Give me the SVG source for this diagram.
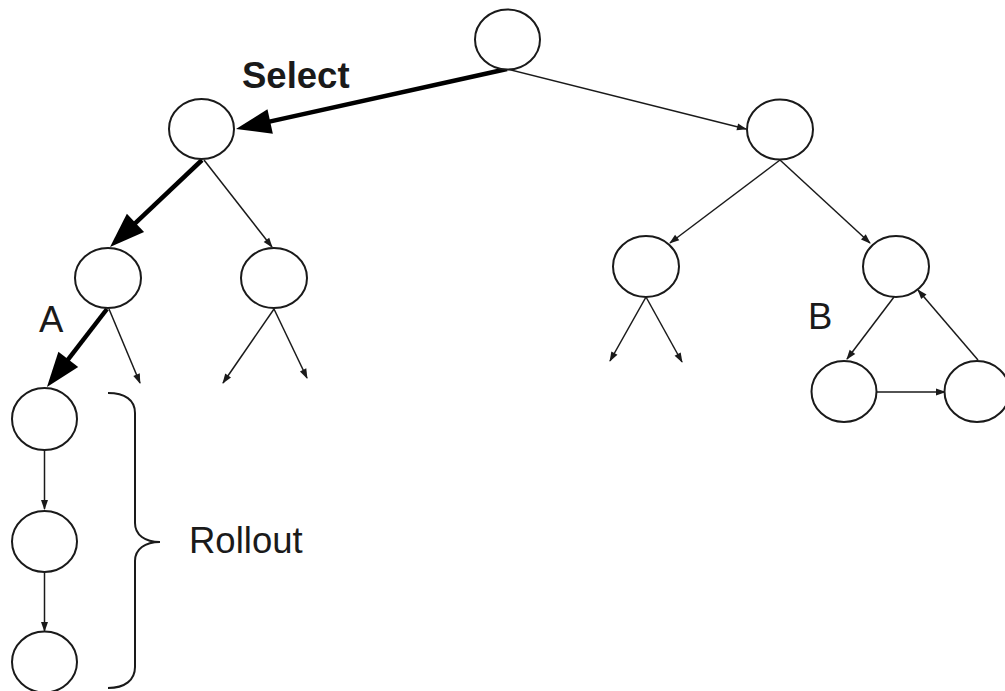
<svg xmlns="http://www.w3.org/2000/svg" width="1005" height="691" viewBox="0 0 1005 691">
  <style>
    .node { fill: #fff; stroke: #1a1a1a; stroke-width: 2; }
    .edge { fill: none; stroke: #1a1a1a; stroke-width: 1.5; marker-end: url(#tip); }
    .bold { fill: none; stroke: #000; stroke-width: 4.5; marker-end: url(#bigTip); }
    .label { font-family: "Liberation Sans", Arial, sans-serif; font-size: 36.5px; fill: #1a1a1a; }
    .brace { fill: none; stroke: #1a1a1a; stroke-width: 2; }
  </style>
  <defs>
    <marker id="tip" markerUnits="userSpaceOnUse" markerWidth="10" markerHeight="8" refX="9" refY="3.5" orient="auto" overflow="visible">
      <path d="M0,0 L10,3.5 L0,7 z" fill="#1a1a1a"/>
    </marker>
    <marker id="bigTip" markerUnits="userSpaceOnUse" markerWidth="36" markerHeight="26" refX="10" refY="12.5" orient="auto" overflow="visible">
      <path d="M0,0 L35,12.5 L0,25 z" fill="#000"/>
    </marker>
  </defs>

  <rect width="1005" height="691" fill="#fff"/>

  <!-- connectors -->
  <g id="connectors">
    <!-- selection path -->
    <line class="bold" x1="507" y1="69" x2="260.4" y2="123.6"/>
    <line class="bold" x1="202" y1="160" x2="128.2" y2="229.8"/>
    <line class="bold" x1="107" y1="309" x2="62.2" y2="367.2"/>
    <!-- other tree edges -->
    <line class="edge" x1="507" y1="69" x2="746" y2="129"/>
    <line class="edge" x1="204" y1="160" x2="272" y2="247"/>
    <line class="edge" x1="109" y1="309" x2="140" y2="383"/>
    <line class="edge" x1="274" y1="309" x2="223" y2="383"/>
    <line class="edge" x1="274" y1="309" x2="307" y2="378"/>
    <line class="edge" x1="780" y1="160" x2="670" y2="243"/>
    <line class="edge" x1="780" y1="160" x2="870" y2="243"/>
    <line class="edge" x1="646" y1="297" x2="610" y2="361"/>
    <line class="edge" x1="646" y1="297" x2="682" y2="362"/>
    <!-- cycle -->
    <line class="edge" x1="894" y1="297" x2="847" y2="359"/>
    <line class="edge" x1="876" y1="392" x2="945" y2="392"/>
    <line class="edge" x1="978" y1="360" x2="918" y2="290"/>
    <!-- rollout chain -->
    <line class="edge" x1="44.5" y1="450" x2="44.5" y2="509"/>
    <line class="edge" x1="44.5" y1="572" x2="44.5" y2="631"/>
  </g>

  <!-- nodes -->
  <g id="root"><ellipse class="node" cx="507.5" cy="39.5" rx="32.5" ry="30"/></g>
  <g id="n-left"><ellipse class="node" cx="201.5" cy="129" rx="32.5" ry="30"/></g>
  <g id="n-right"><ellipse class="node" cx="780" cy="129.5" rx="33" ry="30"/></g>
  <g id="n-left-a"><ellipse class="node" cx="108" cy="278" rx="33" ry="30"/></g>
  <g id="n-left-b"><ellipse class="node" cx="274" cy="278" rx="33" ry="30"/></g>
  <g id="n-right-a"><ellipse class="node" cx="646" cy="266.5" rx="33" ry="30.5"/></g>
  <g id="n-right-b"><ellipse class="node" cx="896" cy="266.5" rx="33" ry="30.5"/></g>
  <g id="n-cycle-left"><ellipse class="node" cx="844" cy="391.5" rx="32.5" ry="30.5"/></g>
  <g id="n-cycle-right"><ellipse class="node" cx="977" cy="391.5" rx="32.5" ry="30.5"/></g>
  <g id="rollout-1"><ellipse class="node" cx="44.5" cy="419" rx="32.5" ry="31"/></g>
  <g id="rollout-2"><ellipse class="node" cx="44.5" cy="541.5" rx="32.5" ry="30.5"/></g>
  <g id="rollout-3"><ellipse class="node" cx="44.5" cy="662" rx="32.5" ry="30.5"/></g>

  <!-- rollout brace -->
  <path class="brace" d="M108,393 C125,393 135,400 135,413 L135,523 C135,535 145,542 160,542 C145,542 135,549 135,561 L135,667 C135,680 125,688 108,688"/>

  <!-- labels -->
  <text class="label" x="242" y="88" font-weight="bold" fill="#000">Select</text>
  <text class="label" x="39" y="332">A</text>
  <text class="label" x="808" y="329">B</text>
  <text class="label" x="189" y="553">Rollout</text>
</svg>
